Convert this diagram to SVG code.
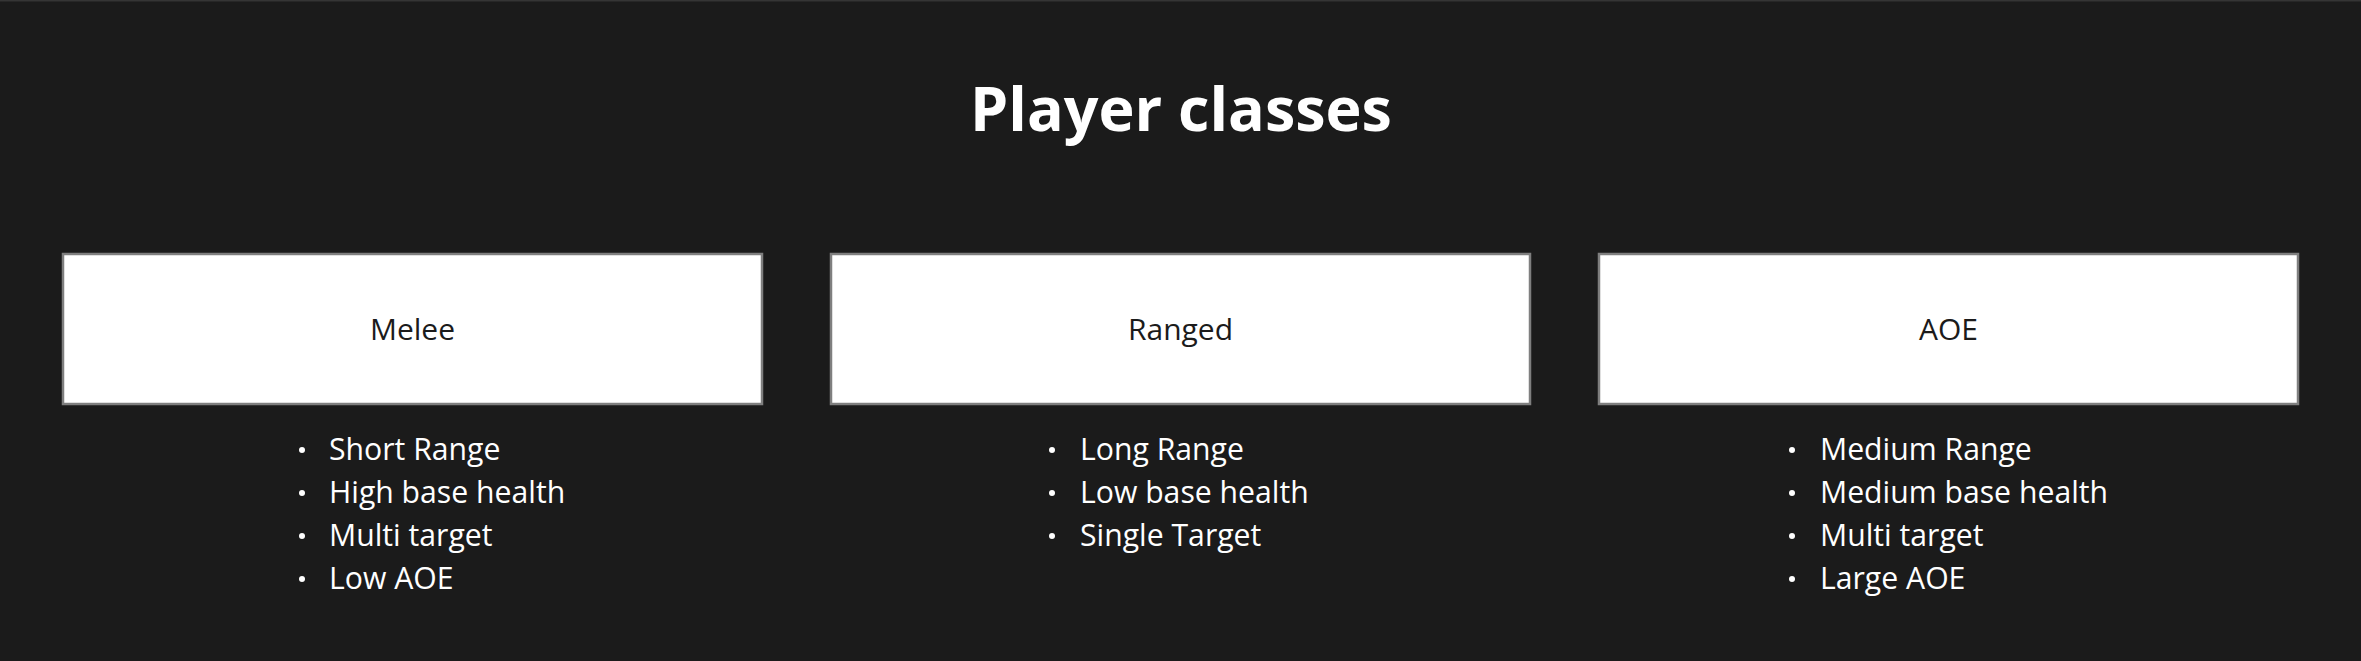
<svg xmlns="http://www.w3.org/2000/svg" width="2361" height="661" viewBox="0 0 2361 661">
<style>
.title{font-family:"Open Sans","Liberation Sans",sans-serif;font-weight:700;font-size:61px;fill:#ffffff;text-anchor:middle}
.box{fill:#ffffff;stroke:#7f7f7f;stroke-width:2.5}
.lbl{font-family:"Open Sans","Liberation Sans",sans-serif;font-size:30px;fill:#1b1b1b;text-anchor:middle}
.item{font-family:"Open Sans","Liberation Sans",sans-serif;font-size:30.2px;fill:#ffffff}
.dot{fill:#ffffff}
</style>
<rect x="0" y="0" width="2361" height="661" fill="#1b1b1b"/>
<rect x="0" y="0" width="2361" height="1.5" fill="#353535"/>
<text class="title" x="1181" y="131">Player classes</text>
<g id="melee">
<rect class="box" x="63" y="254" width="699" height="150"/>
<text class="lbl" x="412.5" y="340">Melee</text>
<circle class="dot" cx="302" cy="450" r="3"/>
<circle class="dot" cx="302" cy="493" r="3"/>
<circle class="dot" cx="302" cy="536" r="3"/>
<circle class="dot" cx="302" cy="579" r="3"/>
<text class="item" x="329" y="460">Short Range</text>
<text class="item" x="329" y="503">High base health</text>
<text class="item" x="329" y="546">Multi target</text>
<text class="item" x="329" y="589">Low AOE</text>
</g>
<g id="ranged">
<rect class="box" x="831" y="254" width="699" height="150"/>
<text class="lbl" x="1180.5" y="340">Ranged</text>
<circle class="dot" cx="1052" cy="450" r="3"/>
<circle class="dot" cx="1052" cy="493" r="3"/>
<circle class="dot" cx="1052" cy="536" r="3"/>
<text class="item" x="1080" y="460">Long Range</text>
<text class="item" x="1080" y="503">Low base health</text>
<text class="item" x="1080" y="546">Single Target</text>
</g>
<g id="aoe">
<rect class="box" x="1599" y="254" width="699" height="150"/>
<text class="lbl" x="1948.5" y="340">AOE</text>
<circle class="dot" cx="1792" cy="450" r="3"/>
<circle class="dot" cx="1792" cy="493" r="3"/>
<circle class="dot" cx="1792" cy="536" r="3"/>
<circle class="dot" cx="1792" cy="579" r="3"/>
<text class="item" x="1820" y="460">Medium Range</text>
<text class="item" x="1820" y="503">Medium base health</text>
<text class="item" x="1820" y="546">Multi target</text>
<text class="item" x="1820" y="589">Large AOE</text>
</g>
<g id="connectors"></g>
</svg>
